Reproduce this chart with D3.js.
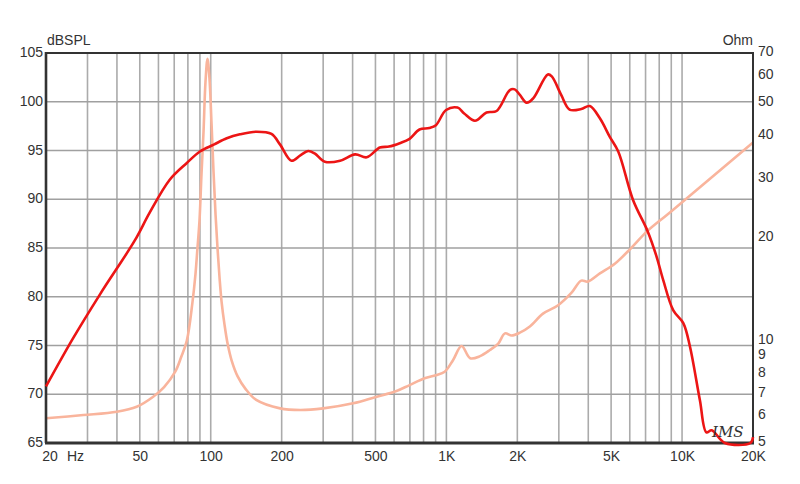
<!DOCTYPE html>
<html>
<head>
<meta charset="utf-8">
<script src="https://cdn.jsdelivr.net/npm/d3@7"></script>
<style>
  html, body { margin: 0; padding: 0; background: #fff; }
  svg { display: block; }
  text { font-family: "Liberation Sans", Arial, sans-serif; fill: #333; }
</style>
</head>
<body>
<svg id="chart" width="800" height="484"></svg>
<script>
// ---- data ----
const splFreq = [20, 26, 34, 47.7, 55, 67, 79, 90, 103, 117, 133, 156, 181, 197, 220, 240, 259, 276, 305, 354, 410, 459, 522, 571, 634, 698, 769, 846, 903, 997, 1115, 1190, 1322, 1480, 1633, 1858, 1950, 2050, 2192, 2335, 2694, 2800, 3070, 3332, 3735, 4060, 4480, 4936, 5360, 6200, 7150, 7800, 8320, 9180, 10120, 10800, 11900, 12680, 13360, 15200, 19500, 20000];
const splDb   = [70.8, 75.7, 80.3, 85.8, 88.6, 92.0, 93.7, 94.9, 95.6, 96.25, 96.66, 96.93, 96.7, 95.6, 93.95, 94.5, 94.95, 94.7, 93.85, 93.95, 94.6, 94.3, 95.3, 95.4, 95.75, 96.2, 97.15, 97.3, 97.6, 99.15, 99.4, 98.8, 98.05, 98.9, 99.05, 101.2, 101.27, 100.7, 99.9, 100.35, 102.8, 102.6, 100.7, 99.2, 99.26, 99.56, 98.3, 96.4, 94.9, 89.9, 86.7, 84.1, 81.7, 78.6, 77.3, 74.9, 69.4, 66.1, 66.3, 65.0, 65.0, 65.6];

const impFreq = [20, 28.8, 40, 48.5, 57, 63.4, 70.7, 75, 79.2, 83.6, 86.1, 87.8, 89.6, 91.4, 93.2, 95.0, 96.9, 98.8, 100.8, 102.8, 104.8, 106.9, 109.0, 111.2, 114.5, 117.9, 122.6, 130.1, 140.7, 156, 197, 240, 300, 402, 506, 606, 698, 808, 903, 984, 1068, 1160, 1262, 1390, 1530, 1660, 1772, 1890, 2050, 2260, 2570, 2980, 3390, 3735, 3980, 4480, 5200, 6080, 7080, 8620, 10270, 20000];
const impOhm  = [5.91, 6.04, 6.18, 6.39, 6.84, 7.3, 8.1, 8.96, 10.0, 12.9, 15.6, 18.6, 22.5, 31.0, 41.0, 57.5, 67.3, 58.8, 43.4, 31.2, 23.5, 18.6, 15.3, 13.0, 11.1, 9.8, 8.75, 7.85, 7.2, 6.69, 6.32, 6.25, 6.32, 6.54, 6.84, 7.08, 7.4, 7.75, 7.91, 8.1, 8.77, 9.64, 8.87, 9.0, 9.38, 9.8, 10.5, 10.35, 10.55, 11.0, 12.0, 12.7, 13.8, 15.0, 14.9, 15.75, 16.85, 18.7, 20.9, 23.4, 25.9, 38.2];

const dbTicks = [65, 70, 75, 80, 85, 90, 95, 100, 105];
const ohmTicks = [5, 6, 7, 8, 9, 10, 20, 30, 40, 50, 60, 70];
const freqLabelVals = [50, 100, 200, 500, 1000, 2000, 5000, 10000, 20000];
const freqLabels = ["50", "100", "200", "500", "1K", "2K", "5K", "10K", "20K"];
const freqGrid = [30, 40, 50, 60, 70, 80, 90, 100, 200, 300, 400, 500, 600, 700, 800, 900, 1000, 2000, 3000, 4000, 5000, 6000, 7000, 8000, 9000, 10000];

// ---- layout ----
const L = 46, R = 753, T = 53, B = 443;
const svg = d3.select("#chart");
svg.append("rect").attr("width", 800).attr("height", 484).attr("fill", "#fff");

const x = d3.scaleLog().domain([20, 20000]).range([L, R]);
const y = d3.scaleLinear().domain([65, 105]).range([B, T]);
const yR = d3.scaleLog().domain([5, 70]).range([B, T]);

// grid
const g = svg.append("g");
g.selectAll("line.v").data(freqGrid).enter().append("line")
  .attr("x1", d => x(d)).attr("x2", d => x(d)).attr("y1", T).attr("y2", B)
  .attr("stroke", "#ababab").attr("stroke-width", 1.6);
g.selectAll("line.h").data(dbTicks.slice(1, -1)).enter().append("line")
  .attr("x1", L).attr("x2", R).attr("y1", d => y(d)).attr("y2", d => y(d))
  .attr("stroke", "#a0a0a0").attr("stroke-width", 1.6);

// axes
const yAxis = d3.axisLeft(y).tickValues(dbTicks).tickSize(0).tickPadding(3);
const ya = svg.append("g").attr("transform", `translate(${L},0)`).call(yAxis);
ya.select(".domain").remove();
ya.selectAll("text").style("font-size", "14px").attr("fill", "#333").attr("dy", "0.25em");

const yRAxis = d3.axisRight(yR).tickValues(ohmTicks).tickSize(0).tickPadding(5)
  .tickFormat(d3.format("d"));
const yra = svg.append("g").attr("transform", `translate(${R},0)`).call(yRAxis);
yra.select(".domain").remove();
yra.selectAll("text").style("font-size", "14px").attr("fill", "#333").attr("dy", "0.2em");

const xAxis = d3.axisBottom(x).tickValues(freqLabelVals).tickSize(0).tickPadding(8)
  .tickFormat((d, i) => freqLabels[i]);
const xa = svg.append("g").attr("transform", `translate(0,${B})`).call(xAxis);
xa.select(".domain").remove();
xa.selectAll("text").style("font-size", "14px").attr("fill", "#333");

svg.append("text").attr("x", 50).attr("y", 461).attr("text-anchor", "middle")
  .style("font-size", "14px").text("20");
svg.append("text").attr("x", 67).attr("y", 461)
  .style("font-size", "14px").text("Hz");
svg.append("text").attr("x", 47).attr("y", 45)
  .style("font-size", "14px").text("dBSPL");
svg.append("text").attr("x", 753).attr("y", 45).attr("text-anchor", "end")
  .style("font-size", "14px").text("Ohm");

// curves
const impLine = d3.line().x(d => x(d[0])).y(d => yR(d[1])).curve(d3.curveCatmullRom.alpha(0.5));
svg.append("path").datum(d3.zip(impFreq, impOhm))
  .attr("d", impLine).attr("fill", "none")
  .attr("stroke", "#f9b49c").attr("stroke-width", 2.6).attr("stroke-linejoin", "round");

const splLine = d3.line().x(d => x(d[0])).y(d => y(d[1])).curve(d3.curveCatmullRom.alpha(0.5));

// frame
svg.append("rect").attr("x", L).attr("y", T).attr("width", R - L).attr("height", B - T)
  .attr("fill", "none").attr("stroke", "#333").attr("stroke-width", 2);
svg.append("line").attr("x1", L - 1).attr("x2", R + 1).attr("y1", B).attr("y2", B)
  .attr("stroke", "#333").attr("stroke-width", 3);
svg.append("line").attr("x1", L).attr("x2", L).attr("y1", T - 1).attr("y2", B)
  .attr("stroke", "#333").attr("stroke-width", 2.6);

svg.append("path").datum(d3.zip(splFreq, splDb))
  .attr("d", splLine).attr("fill", "none")
  .attr("stroke", "#ec1515").attr("stroke-width", 2.6).attr("stroke-linejoin", "round");

// signature
svg.append("text").attr("x", 712).attr("y", 437)
  .style("font-family", "'DejaVu Serif', serif").style("font-style", "italic")
  .style("font-size", "15px").attr("fill", "#222").text("IMS");
</script>
</body>
</html>
